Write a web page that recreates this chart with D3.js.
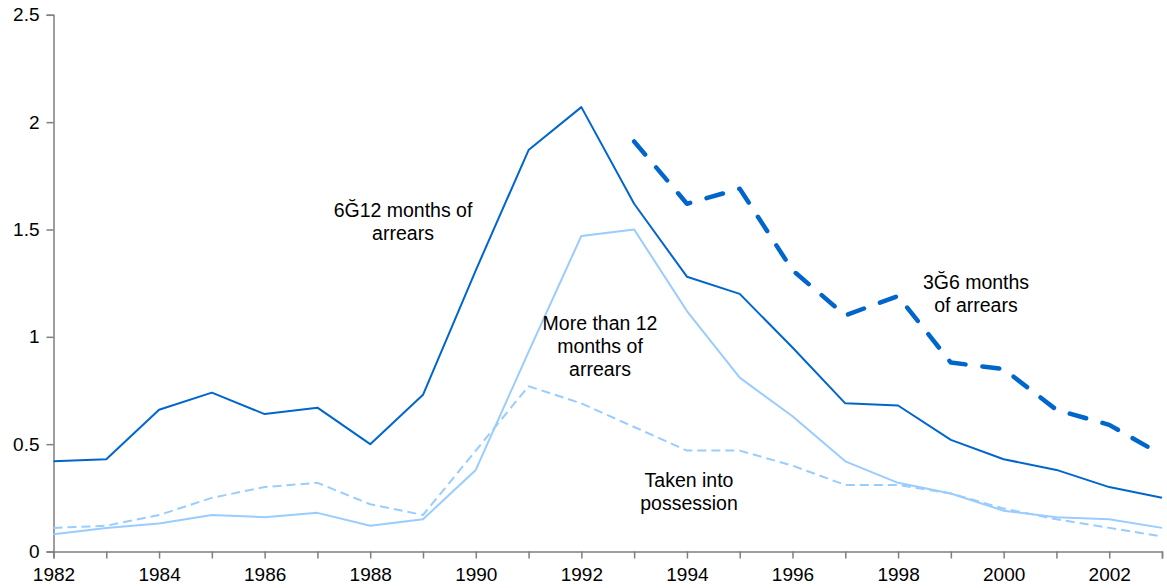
<!DOCTYPE html>
<html>
<head>
<meta charset="utf-8">
<script src="https://cdn.jsdelivr.net/npm/d3@7"></script>
<style>
  html, body { margin: 0; padding: 0; background: #fff; }
  svg { display: block; font-family: "Liberation Sans", Arial, sans-serif; }
</style>
</head>
<body>
<svg id="chart" width="1167" height="588"></svg>
<script>
// ---- data ----
const years = d3.range(1982, 2004);
const arrears6to12 = [0.42, 0.43, 0.66, 0.74, 0.64, 0.67, 0.50, 0.73, 1.31, 1.87, 2.07, 1.62, 1.28, 1.20, 0.95, 0.69, 0.68, 0.52, 0.43, 0.38, 0.30, 0.25];
const years3to6 = d3.range(1993, 2004);
const arrears3to6 = [1.91, 1.62, 1.69, 1.31, 1.10, 1.19, 0.88, 0.85, 0.66, 0.59, 0.45];
const arrearsOver12 = [0.08, 0.11, 0.13, 0.17, 0.16, 0.18, 0.12, 0.15, 0.38, 0.93, 1.47, 1.50, 1.12, 0.81, 0.63, 0.42, 0.32, 0.27, 0.19, 0.16, 0.15, 0.11];
const possessions = [0.11, 0.12, 0.17, 0.25, 0.30, 0.32, 0.22, 0.17, 0.47, 0.77, 0.69, 0.58, 0.47, 0.47, 0.40, 0.31, 0.31, 0.27, 0.20, 0.15, 0.11, 0.07];
const yTicks = [0, 0.5, 1, 1.5, 2, 2.5];
const yTickLabels = ["0", "0.5", "1", "1.5", "2", "2.5"];
const xLabelYears = d3.range(1982, 2004, 2);

const svg = d3.select("#chart");
const x = d3.scaleLinear().domain([1982, 2003]).range([53.5, 1162]);
const y = d3.scaleLinear().domain([0, 2.5]).range([551.5, 14.8]);

const axisColor = "#7f7f7f";

// x axis
const xAxis = d3.axisBottom(x)
  .tickValues(years)
  .tickSize(7)
  .tickFormat(d => (d % 2 === 0 ? String(d) : ""));
const gx = svg.append("g").attr("transform", `translate(0,${y(0)})`).call(xAxis);
gx.select(".domain").attr("stroke", axisColor).attr("stroke-width", 1.5);
gx.selectAll(".tick line").attr("stroke", axisColor).attr("stroke-width", 1.5);
gx.selectAll(".tick text").attr("font-size", 19).attr("fill", "#000").attr("dy", "1.05em")
  .attr("font-family", "Liberation Sans, Arial, sans-serif");

// y axis
const yAxis = d3.axisLeft(y)
  .tickValues(yTicks)
  .tickSize(7)
  .tickFormat((d, i) => yTickLabels[i]);
const gy = svg.append("g").attr("transform", `translate(${x(1982)},0)`).call(yAxis);
gy.select(".domain").attr("stroke", axisColor).attr("stroke-width", 1.5);
gy.selectAll(".tick line").attr("stroke", axisColor).attr("stroke-width", 1.5);
gy.selectAll(".tick text").attr("font-size", 19).attr("fill", "#000").attr("x", -14)
  .attr("font-family", "Liberation Sans, Arial, sans-serif");

const line = d3.line().x(d => x(d[0])).y(d => y(d[1]));
const dark = "#0066cc", light = "#99ccff";

function draw(xs, vals, color, width, dash, cap) {
  svg.append("path")
    .datum(xs.map((yr, i) => [yr, vals[i]]))
    .attr("d", line)
    .attr("fill", "none")
    .attr("stroke", color)
    .attr("stroke-width", width)
    .attr("stroke-linejoin", "round")
    .attr("stroke-linecap", cap || "butt")
    .attr("stroke-dasharray", dash || null);
}

draw(years, possessions, light, 2, "9,5");
draw(years, arrearsOver12, light, 2);
draw(years, arrears6to12, dark, 2);
draw(years3to6, arrears3to6, dark, 4.5, "17,17", "round");

// annotations
const notes = [
  { lines: ["6Ğ12 months of", "arrears"], cx: 403, y0: 217 },
  { lines: ["3Ğ6 months", "of arrears"], cx: 976, y0: 289 },
  { lines: ["More than 12", "months of", "arrears"], cx: 600, y0: 330 },
  { lines: ["Taken into", "possession"], cx: 689, y0: 487 }
];
notes.forEach(n => {
  const t = svg.append("text")
    .attr("text-anchor", "middle")
    .attr("font-size", 19.5)
    .attr("fill", "#000");
  n.lines.forEach((l, i) => {
    t.append("tspan").attr("x", n.cx).attr("y", n.y0 + i * 23).text(l);
  });
});
</script>
</body>
</html>
